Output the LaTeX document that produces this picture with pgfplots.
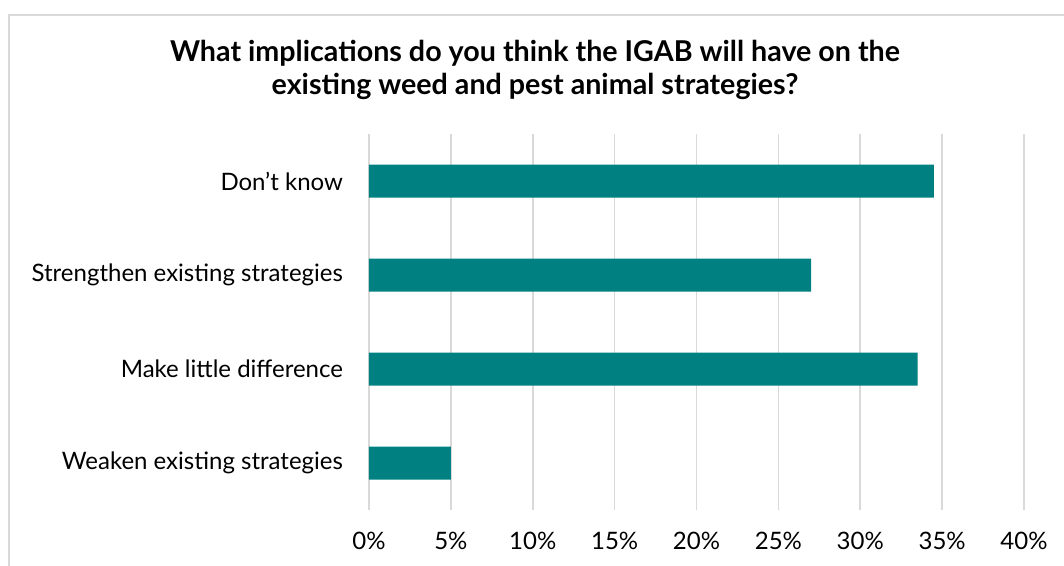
\documentclass[border=0pt]{standalone}
\usepackage{fontspec}
\setmainfont{Lato}
\usepackage{pgfplots}
\pgfplotsset{compat=1.18}
\definecolor{barteal}{HTML}{008080}
\definecolor{gridgray}{HTML}{D9D9D9}
\begin{document}
\begin{tikzpicture}
\begin{axis}[
  scale only axis, width=491.25pt, height=282pt,
  xbar, bar width=24.75pt,
  xmin=0, xmax=40, ymin=-0.5, ymax=3.5,
  xtick={0,5,...,40},
  xticklabels={0\%,5\%,10\%,15\%,20\%,25\%,30\%,35\%,40\%},
  ytick={0,1,2,3},
  yticklabels={Weaken existing strategies,Make little difference,Strengthen existing strategies,Don’t know},
  major tick length=0pt,
  axis line style={draw=none},
  xmajorgrids, grid style={gridgray, line width=1.2pt},
  ticklabel style={font=\fontsize{18}{20}\selectfont, text=black},
  xticklabel style={yshift=-13pt},
  yticklabel style={xshift=-16pt},
]
\addplot[fill=barteal, draw=none] coordinates {(5,0) (33.5,1) (27,2) (34.5,3)};
\end{axis}
\draw[gridgray, line width=1.2pt] (-270pt,-45pt) -- (-270pt,371.25pt) -- (525pt,371.25pt);
\node[align=center, font=\fontsize{21.5}{24.75}\selectfont\bfseries] at (124.5pt,330pt)
  {What implications do you think the IGAB will have on the\\existing weed and pest animal strategies?};
\pgfresetboundingbox
\path[use as bounding box] (-276.75pt,-41.25pt) rectangle (521.25pt,382.5pt);
\end{tikzpicture}
\end{document}
